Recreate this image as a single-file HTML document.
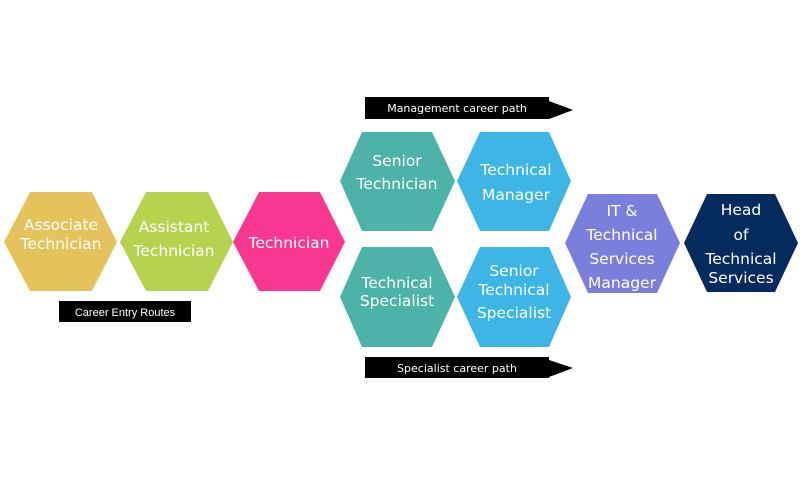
<!DOCTYPE html>
<html><head><meta charset="utf-8"><style>
html,body{margin:0;padding:0;background:#fff;}
svg{display:block;}
text{font-family:"DejaVu Sans","Liberation Sans",sans-serif;fill:#fff;text-anchor:middle;}
.l{font-size:15.5px;}
.s{font-size:11px;}
</style></head><body>
<svg width="800" height="479" viewBox="0 0 800 479" xmlns="http://www.w3.org/2000/svg">
<polygon points="4,242 30,192 92,192 117,242 92,291 30,291" fill="#e5c35c"/>
<polygon points="120,242 146,192 208,192 233,242 208,291 146,291" fill="#b7d24f"/>
<polygon points="233,242 259,192 320,192 345,242 320,291 259,291" fill="#fa3790"/>
<polygon points="340,181 362,132 432,132 455,181 432,231 362,231" fill="#4db3a9"/>
<polygon points="457,181 480,132 549,132 571,181 549,231 480,231" fill="#3db6e6"/>
<polygon points="340,297 362,247 432,247 455,297 432,347 362,347" fill="#4db3a9"/>
<polygon points="457,297 480,247 549,247 571,297 549,347 480,347" fill="#3db6e6"/>
<polygon points="565,243 588,194 657,194 680,243 657,293 588,293" fill="#7b7fdc"/>
<polygon points="684,243 707,194 775,194 798,243 775,292 707,292" fill="#052a5e"/>

<text class="l" x="61" y="230">Associate</text>
<text class="l" x="61" y="249">Technician</text>
<text class="l" x="174" y="232">Assistant</text>
<text class="l" x="174" y="256">Technician</text>
<text class="l" x="289" y="248">Technician</text>
<text class="l" x="397" y="166">Senior</text>
<text class="l" x="397" y="189">Technician</text>
<text class="l" x="516" y="175">Technical</text>
<text class="l" x="516" y="200">Manager</text>
<text class="l" x="397" y="288">Technical</text>
<text class="l" x="397" y="306">Specialist</text>
<text class="l" x="514" y="276">Senior</text>
<text class="l" x="514" y="295">Technical</text>
<text class="l" x="514" y="318">Specialist</text>
<text class="l" x="622" y="216">IT &amp;</text>
<text class="l" x="622" y="240">Technical</text>
<text class="l" x="622" y="264">Services</text>
<text class="l" x="622" y="288">Manager</text>
<text class="l" x="741" y="215">Head</text>
<text class="l" x="741" y="240">of</text>
<text class="l" x="741" y="264">Technical</text>
<text class="l" x="741" y="283">Services</text>

<rect x="365" y="97" width="184" height="22" fill="#000"/>
<polygon points="549,101 573,110 549,119" fill="#000"/>
<text class="s" x="457" y="112">Management career path</text>
<rect x="365" y="357" width="184" height="21" fill="#000"/>
<polygon points="549,360 573,368 549,377" fill="#000"/>
<text class="s" x="457" y="372">Specialist career path</text>
<rect x="59" y="301" width="132" height="21" fill="#000"/>
<text class="s" x="125" y="316" style="font-family:'Liberation Sans',sans-serif">Career Entry Routes</text>
</svg>
</body></html>
